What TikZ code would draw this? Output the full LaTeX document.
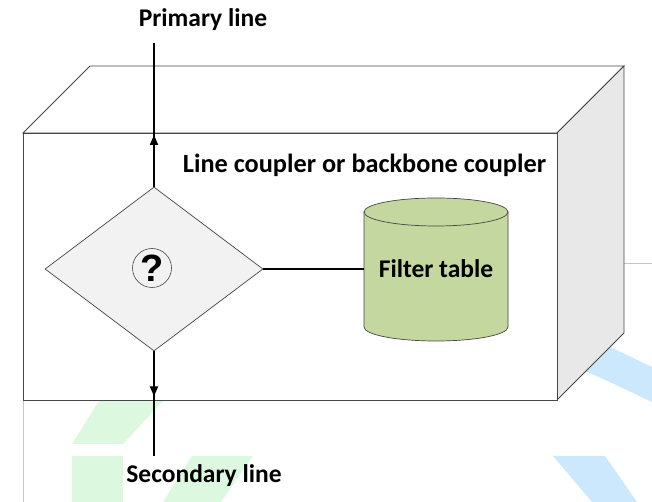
\documentclass[tikz,border=0pt]{standalone}
\usepackage{fontspec}
\setmainfont{Carlito}
\newfontfamily\qfont{Liberation Sans}
\usetikzlibrary{shapes.geometric,arrows.meta,decorations.markings}
\definecolor{wmgreen}{RGB}{220,248,222}
\definecolor{wmblue}{RGB}{204,232,252}
\definecolor{sideface}{RGB}{232,232,232}
\definecolor{diamfill}{RGB}{242,242,242}
\definecolor{cylfill}{RGB}{196,215,158}
\definecolor{edge}{RGB}{70,70,70}
\tikzset{
  x=1pt, y=1pt,
  boxedge/.style={draw=edge, line width=0.9pt, line join=miter},
  lbl/.style={font=\fontsize{25.5}{30}\selectfont\bfseries, inner sep=0pt},
  conn/.style={line width=1.8pt, black},
  midarrow/.style={postaction={decorate}, decoration={markings, mark=at position #1 with {\arrow{Triangle[width=8pt,length=10pt]}}}},
}
\begin{document}
\begin{tikzpicture}
\useasboundingbox (0,0) rectangle (652,502);
% faint background watermark
\fill[wmgreen] (117,130) -- (190,130) -- (123,58) -- (72,58) -- cycle;
\fill[wmgreen] (72,0) rectangle (123,46);
\fill[wmgreen] (192,46) -- (253,46) -- (221,0) -- (163,0) -- cycle;
\fill[wmblue] (565,175) .. controls (600,160) .. (652,135) -- (652,100) .. controls (610,120) .. (565,140) -- cycle;
\fill[wmblue] (553,46) -- (605,46) -- (637,0) -- (592,0) -- cycle;
\draw[gray!45, line width=0.8pt] (23,0) -- (23,101);
\draw[gray!45, line width=0.8pt] (624,239) -- (652,239);
% box
\draw[boxedge, fill=white] (23,369) -- (90,436) -- (624,436) -- (557,369) -- cycle;
\draw[boxedge, fill=sideface] (557,369) -- (624,436) -- (624,169) -- (557,102) -- cycle;
\draw[boxedge, fill=white] (23,102) rectangle (557,369);
% title
\node[lbl, font=\fontsize{26.3}{30}\selectfont\bfseries] (title) at (364.5,337) {Line coupler or backbone coupler};
% diamond
\node[diamond, draw=edge, line width=0.7pt, fill=diamfill, inner sep=0pt,
      minimum width=218pt, minimum height=164pt, aspect=1.33] (dec) at (154,233) {};
\node[circle, draw=edge, line width=0.6pt, minimum size=39pt, inner sep=0pt,
      font=\qfont\fontsize{38}{40}\selectfont\bfseries] (q) at (152,234) {?};
% cylinder
\fill[cylfill] (364,290) -- (364,175) arc[start angle=180, end angle=360, x radius=72, y radius=14]
  -- (508,290) arc[start angle=0, end angle=180, x radius=72, y radius=14] -- cycle;
\draw[edge, line width=0.7pt] (364,290) -- (364,175) arc[start angle=180, end angle=360, x radius=72, y radius=14] -- (508,290);
\draw[edge, line width=0.7pt] (436,290) ellipse[x radius=72, y radius=14];
\node[lbl, minimum width=144pt, minimum height=115pt] (ft) at (436,233) {Filter table};
% end points of the lines
\node[lbl] (prim) at (203,482) {Primary line};
\node[lbl] (sec) at (204,26) {Secondary line};
\coordinate (ptop) at (154,459);
\coordinate (pbot) at (154,46);
% connectors
\draw[conn, midarrow=0.36] (dec.north) -- (ptop);
\draw[conn, midarrow=0.43] (dec.south) -- (pbot);
\draw[conn] (dec.east) -- (ft.west);
\end{tikzpicture}
\end{document}
